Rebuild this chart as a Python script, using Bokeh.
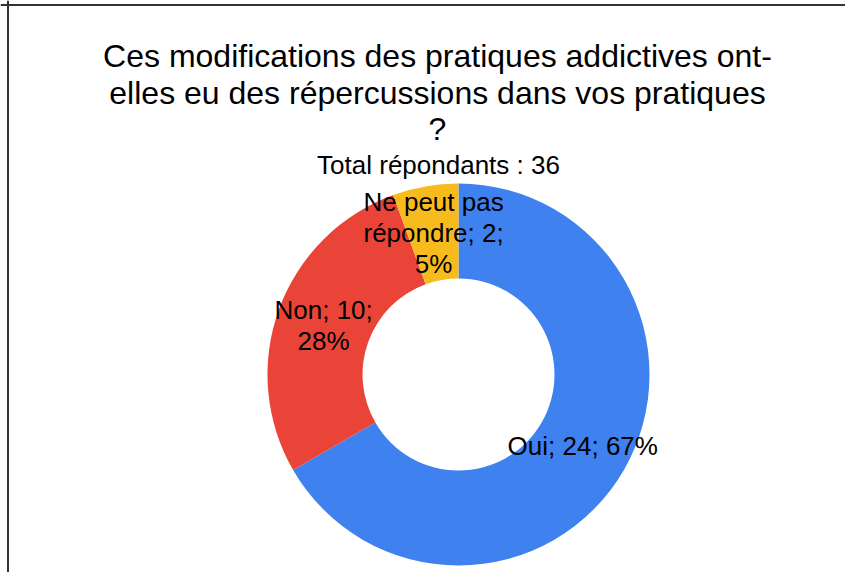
import numpy as np
from bokeh.plotting import figure
from bokeh.models import Range1d, Label, Span, ColumnDataSource
from bokeh.core.properties import value
from bokeh.embed import file_html
from bokeh.resources import INLINE

# ---- data ----
categories = ["Oui", "Non", "Ne peut pas répondre"]
counts = [24, 10, 2]
percents = [67, 28, 5]
slice_labels = ["Oui; 24; 67%", "Non; 10;\n28%", "Ne peut pas\nrépondre; 2;\n5%"]
colors = ["#3f81ef", "#ea4439", "#f8bb1e"]
title_lines = ["Ces modifications des pratiques addictives ont-",
               "elles eu des répercussions dans vos pratiques",
               "?"]
subtitle = "Total répondants : 36"

FONT = "Liberation Sans"

# ---- geometry (data units == pixels) ----
W, H = 845, 572
cx, cy = 458, H - 374
r_in, r_out = 96, 191

total = sum(counts)
cum = np.concatenate([[0], np.cumsum(counts)])
start = np.pi / 2 - cum[:-1] / total * 2 * np.pi
end = np.pi / 2 - cum[1:] / total * 2 * np.pi
mid = (start + end) / 2
r_mid = (r_in + r_out) / 2

src = ColumnDataSource(dict(
    cat=categories, start=start, end=end, color=colors,
    lx=cx + r_mid * np.cos(mid), ly=cy + r_mid * np.sin(mid), label=slice_labels,
))

p = figure(width=W, height=H, x_range=Range1d(0, W), y_range=Range1d(0, H),
           output_backend="svg", toolbar_location=None, min_border=0,
           x_axis_location=None, y_axis_location=None, outline_line_color=None,
           background_fill_color="white", border_fill_color="white")
p.xgrid.visible = False
p.ygrid.visible = False

p.annular_wedge(x=cx, y=cy, inner_radius=r_in, outer_radius=r_out,
                start_angle="start", end_angle="end", direction="clock",
                fill_color="color", line_color=None, source=src)

p.text(x="lx", y="ly", text="label", source=src, text_align="center",
       text_baseline="middle", text_font=value(FONT), text_font_size="26px",
       text_color="black", text_line_height=1.03)

# title
for t, yb in zip(title_lines, [55, 92, 128]):
    p.add_layout(Label(x=437, y=H - yb, text=t, text_align="center",
                       text_baseline="alphabetic", text_font=FONT,
                       text_font_size="32px", text_color="black"))
p.add_layout(Label(x=438, y=H - 164, text=subtitle, text_align="center",
                   text_baseline="alphabetic", text_font=FONT,
                   text_font_size="26px", text_color="black"))

# frame border (left and top)
p.add_layout(Span(location=7.5, dimension="height", line_color="#333333", line_width=2))
p.add_layout(Span(location=H - 4.5, dimension="width", line_color="#333333", line_width=2))

open("out.html", "w").write(file_html(p, INLINE))
